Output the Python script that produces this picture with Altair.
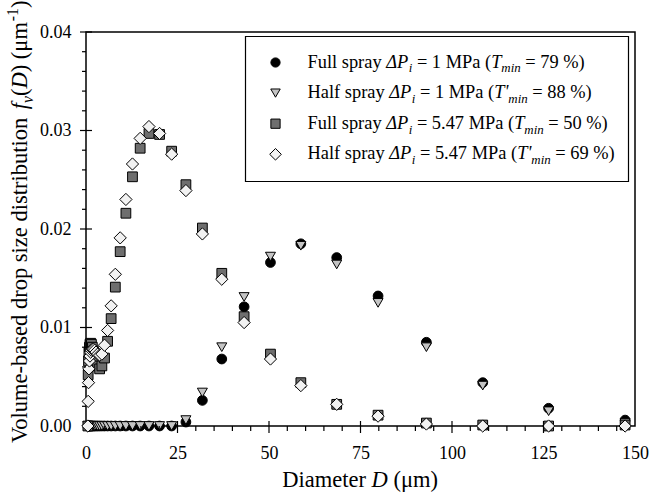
import altair as alt
import pandas as pd

# ---------------- data ----------------
D = [0.51, 0.59, 0.69, 0.80, 0.94, 1.09, 1.27, 1.48, 1.73, 2.02,
     2.35, 2.74, 3.19, 3.72, 4.34, 5.06, 5.90, 6.87, 8.01, 9.34,
     10.9, 12.7, 14.8, 17.2, 20.1, 23.4, 27.3, 31.8, 37.1, 43.2,
     50.4, 58.7, 68.5, 79.8, 93.0, 108.4, 126.4, 147.3]

full_1 = [0.0] * 26 + [0.0004, 0.0026, 0.0068, 0.0121, 0.0166, 0.0185,
                       0.0171, 0.0132, 0.0085, 0.0044, 0.0018, 0.0006]
half_1 = [0.0] * 26 + [0.0006, 0.0034, 0.0080, 0.0131, 0.0172, 0.0183,
                       0.0164, 0.0125, 0.0080, 0.0041, 0.0015, 0.0003]
full_547 = [0.0000, 0.0052, 0.0066, 0.0075, 0.0080, 0.0083, 0.0084, 0.0083, 0.0080, 0.0076,
            0.0071, 0.0066, 0.0061, 0.0058, 0.0061, 0.0069, 0.0086, 0.0109, 0.0141, 0.0177,
            0.0216, 0.0253, 0.0282, 0.0297, 0.0296, 0.0279, 0.0245, 0.0201, 0.0155, 0.0111,
            0.0073, 0.0044, 0.0022, 0.0011, 0.0003, 0.0001, 0.0000, 0.0001]
half_547 = [0.0000, 0.0025, 0.0044, 0.0058, 0.0066, 0.0071, 0.0075, 0.0077, 0.0078, 0.0078,
            0.0077, 0.0075, 0.0073, 0.0072, 0.0073, 0.0082, 0.0097, 0.0122, 0.0154, 0.0191,
            0.0230, 0.0266, 0.0292, 0.0304, 0.0297, 0.0276, 0.0239, 0.0195, 0.0149, 0.0105,
            0.0068, 0.0041, 0.0022, 0.0010, 0.0002, 0.0000, 0.0000, 0.0000]

x_ticks = [0, 25, 50, 75, 100, 125, 150]
y_ticks = [0.00, 0.01, 0.02, 0.03, 0.04]
x_major_marks = [25, 50, 75, 100, 125]
x_minor_marks = [v for v in range(5, 150, 5) if v % 25 != 0]
y_major_marks = [0.01, 0.02, 0.03, 0.04]
y_minor_marks = [0.002, 0.004, 0.006, 0.008, 0.012, 0.014, 0.016, 0.018,
                 0.022, 0.024, 0.026, 0.028, 0.032, 0.034, 0.036, 0.038]

legend_rows = [
    [("Full spray ", "n"), ("ΔP", "i"), ("i", "sub"), (" = 1 MPa (", "n"), ("T", "i"), ("min", "sub"), (" = 79 %)", "n")],
    [("Half spray ", "n"), ("ΔP", "i"), ("i", "sub"), (" = 1 MPa (", "n"), ("T'", "i"), ("min", "sub"), (" = 88 %)", "n")],
    [("Full spray ", "n"), ("ΔP", "i"), ("i", "sub"), (" = 5.47 MPa (", "n"), ("T", "i"), ("min", "sub"), (" = 50 %)", "n")],
    [("Half spray ", "n"), ("ΔP", "i"), ("i", "sub"), (" = 5.47 MPa (", "n"), ("T'", "i"), ("min", "sub"), (" = 69 %)", "n")],
]
x_title = [("Diameter ", "n"), ("D", "i"), (" (μm)", "n")]
y_title = [("Volume-based drop size distribution ", "n"), ("f", "i"), ("v", "sub"),
           ("(", "n"), ("D", "i"), (") (μm", "n"), ("-1", "sup"), (")", "n")]

# ---------------- styling ----------------
FONT = "Liberation Serif, Times New Roman, Times, DejaVu Serif, serif"
W = 549
H = 394

W_N = {' ': 250, 'F': 556, 'u': 500, 'l': 278, 's': 389, 'p': 500, 'r': 333, 'a': 444,
       'y': 500, '=': 564, 'M': 889, 'P': 556, '(': 333, ')': 333, '%': 833, '.': 250,
       'H': 722, 'h': 500, 'f': 333, 'V': 722, 'o': 500, 'm': 778, 'e': 444, '-': 333,
       'b': 500, 'd': 500, 'i': 278, 'z': 444, 't': 278, 'n': 500, 'D': 722, 'μ': 576}
W_I = {'Δ': 611, 'P': 611, 'i': 278, 'T': 556, 'm': 722, 'n': 500, "'": 214,
       'f': 278, 'v': 444, 'D': 722}


def tw(s, italic, fs):
    tab = W_I if italic else W_N
    return sum(tab.get(c, 500) for c in s) / 1000.0 * fs


one = pd.DataFrame({"k": [0]})


def seg_layers(segs, x0, y0, fs, center=False):
    parts = []
    for txt, st in segs:
        size = fs * 0.7 if st in ("sub", "sup") else fs
        italic = st in ("i", "sub")
        parts.append((txt, st, size, italic, tw(txt, italic, size)))
    total = sum(p[4] for p in parts)
    pos = x0 - total / 2 if center else x0
    layers = []
    for txt, st, size, italic, w in parts:
        lead = len(txt) - len(txt.lstrip(" "))
        start = pos + tw(" " * lead, False, size)
        shift = 0.27 * fs if st == "sub" else (-0.42 * fs if st == "sup" else 0.0)
        t = txt.strip(" ")
        if t:
            kw = dict(text=t, font=FONT, fontSize=size, align="left",
                      baseline="alphabetic", color="black")
            if italic:
                kw["fontStyle"] = "italic"
            layers.append(alt.Chart(one).mark_text(**kw).encode(
                x=alt.value(start), y=alt.value(y0 + shift)))
        pos += w
    return layers


def seg_layers_rot(segs, xb, ystart, fs):
    layers = []
    pos = ystart
    for txt, st in segs:
        size = fs * 0.7 if st in ("sub", "sup") else fs
        italic = st in ("i", "sub")
        w = tw(txt, italic, size)
        lead = len(txt) - len(txt.lstrip(" "))
        start = pos - tw(" " * lead, False, size)
        shift = 0.27 * fs if st == "sub" else (-0.42 * fs if st == "sup" else 0.0)
        t = txt.strip(" ")
        if t:
            kw = dict(text=t, font=FONT, fontSize=size, align="left",
                      baseline="alphabetic", color="black", angle=270)
            if italic:
                kw["fontStyle"] = "italic"
            layers.append(alt.Chart(one).mark_text(**kw).encode(
                x=alt.value(xb + shift), y=alt.value(start)))
        pos -= w
    return layers


xs = alt.Scale(domain=[0, 150], nice=False, zero=False)
ys = alt.Scale(domain=[0, 0.04], nice=False, zero=False)
ax_x = alt.Axis(values=x_ticks, title=None, format="d")
ax_y = alt.Axis(values=y_ticks, title=None, format=".2f")


def X(f):
    return alt.X(f, type="quantitative", scale=xs, axis=ax_x, title=None)


def Y(f):
    return alt.Y(f, type="quantitative", scale=ys, axis=ax_y, title=None)


def series(vals, shape, fill, size, stroke="black"):
    df = pd.DataFrame({"D": D, "v": vals})
    return alt.Chart(df).mark_point(shape=shape, filled=True, fill=fill, stroke=stroke,
                                    strokeWidth=1, size=size, opacity=1).encode(x=X("D"), y=Y("v"))


S_CIRCLE = dict(shape="circle", fill="black", size=95)
S_TRI = dict(shape="triangle-down", fill="#c4c4c4", size=100)
S_SQ = dict(shape="square", fill="#6e6e6e", size=95)
S_DIA = dict(shape="diamond", fill="#f2f2f2", size=150)

layers = [
    series(full_1, **S_CIRCLE),
    series(half_1, **S_TRI),
    series(full_547, **S_SQ),
    series(half_547, **S_DIA),
]

# tick marks
tick_style = dict(color="black", strokeWidth=1.2)
layers.append(alt.Chart(pd.DataFrame({"t": x_major_marks})).mark_rule(**tick_style).encode(
    x=X("t"), y=alt.value(H - 5), y2=alt.value(H + 7)))
layers.append(alt.Chart(pd.DataFrame({"t": x_minor_marks})).mark_rule(**tick_style).encode(
    x=X("t"), y=alt.value(H), y2=alt.value(H + 5)))
layers.append(alt.Chart(pd.DataFrame({"t": y_major_marks})).mark_rule(**tick_style).encode(
    y=Y("t"), x=alt.value(-6), x2=alt.value(6)))
layers.append(alt.Chart(pd.DataFrame({"t": y_minor_marks})).mark_rule(**tick_style).encode(
    y=Y("t"), x=alt.value(-4), x2=alt.value(0)))

# legend box
layers.append(alt.Chart(one).mark_rect(fill="white", stroke="black", strokeWidth=1.2).encode(
    x=alt.value(159.5), x2=alt.value(542.5), y=alt.value(4.5), y2=alt.value(149.5)))
leg_styles = [S_CIRCLE, S_TRI, S_SQ, S_DIA]
for k, (row, st) in enumerate(zip(legend_rows, leg_styles)):
    base = 35.5 + 30.6 * k
    layers.append(alt.Chart(one).mark_point(shape=st["shape"], filled=True, fill=st["fill"],
                                            stroke="black", strokeWidth=1, size=st["size"] * 0.9,
                                            opacity=1).encode(
        x=alt.value(189.5), y=alt.value(base - 5)))
    layers += seg_layers(row, 221.5, base, 18.4)

# axis titles
layers += seg_layers(x_title, W / 2, 455, 22.5, center=True)
layers += seg_layers_rot(y_title, -59, 411, 22.5)

chart = alt.layer(*layers).properties(
    width=W, height=H,
    autosize=alt.AutoSizeParams(type="none"),
    padding={"left": 86, "top": 32, "right": 16, "bottom": 68},
).configure_view(
    stroke="black", strokeWidth=1.5
).configure_axis(
    grid=False, ticks=False, domain=False, labelFlush=False,
    labelFont=FONT, labelFontSize=18, labelColor="black",
).configure_axisX(labelPadding=18, labelBaseline="top"
).configure_axisY(labelPadding=15)

chart.save("out.html", embed_options={"renderer": "svg", "actions": False})
